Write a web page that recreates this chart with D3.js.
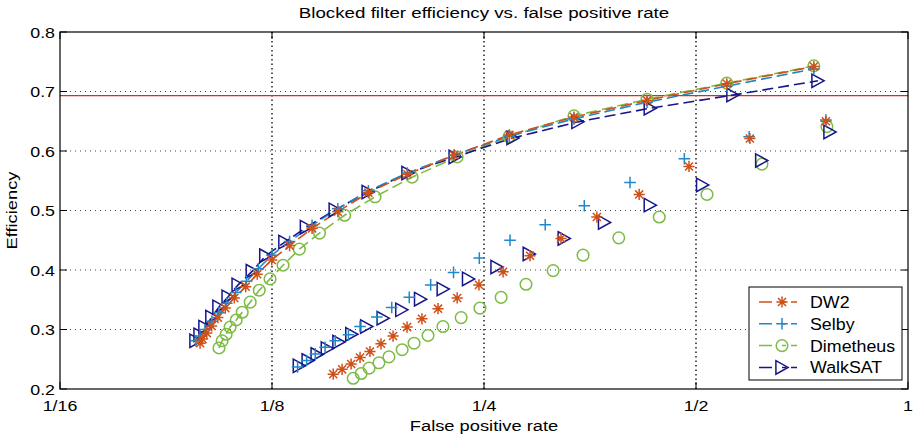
<!DOCTYPE html>
<html>
<head>
<meta charset="utf-8">
<script src="https://cdn.jsdelivr.net/npm/d3@7"></script>
<style>
  html, body { margin: 0; padding: 0; background: #fff; }
  svg { display: block; font-family: "Liberation Sans", Arial, Helvetica, sans-serif; }
</style>
</head>
<body>
<svg id="chart" width="914" height="438"></svg>
<script>
// Axis ticks
const xTickValues = [1/16, 1/8, 1/4, 1/2, 1];
const xTickLabels = ["1/16", "1/8", "1/4", "1/2", "1"];
const yTickValues = [0.2, 0.3, 0.4, 0.5, 0.6, 0.7, 0.8];

// Reference efficiency (ln 2)
const referenceEfficiency = Math.LN2;

// DW2
const dw2CurveFpr = [0.0988,0.0996,0.1010,0.1026,0.1047,0.1073,0.1105,0.1147,0.1191,0.1249,0.1324,0.1425,0.155,0.1713,0.1946,0.2268,0.2716,0.3355,0.426,0.553,0.735];
const dw2CurveEff = [0.277,0.284,0.294,0.306,0.320,0.336,0.353,0.372,0.393,0.417,0.441,0.470,0.498,0.530,0.561,0.593,0.627,0.657,0.685,0.713,0.742];
const dw2PointFpr = [0.1527,0.1572,0.1619,0.1667,0.1722,0.1785,0.1857,0.1944,0.2041,0.2151,0.2290,0.2459,0.2661,0.2906,0.3216,0.3616,0.4152,0.4887,0.5963,0.7646];
const dw2PointEff = [0.225,0.233,0.242,0.253,0.263,0.276,0.289,0.304,0.318,0.335,0.353,0.375,0.397,0.424,0.453,0.489,0.527,0.574,0.621,0.650];

// Selby
const selbyCurveFpr = [0.0975,0.0988,0.1004,0.1027,0.1051,0.1078,0.1110,0.1150,0.1195,0.1250,0.1324,0.1425,0.155,0.1713,0.1946,0.2268,0.2716,0.3355,0.426,0.553,0.735];
const selbyCurveEff = [0.281,0.289,0.300,0.314,0.328,0.344,0.362,0.381,0.402,0.425,0.448,0.475,0.503,0.533,0.563,0.593,0.625,0.654,0.682,0.709,0.738];
const selbyPointFpr = [0.1359,0.1400,0.1440,0.1487,0.1537,0.1605,0.1667,0.1761,0.1849,0.1958,0.2100,0.2263,0.2462,0.2722,0.3054,0.3470,0.4030,0.4813,0.5949,0.7646];
const selbyPointEff = [0.237,0.248,0.259,0.270,0.281,0.291,0.305,0.321,0.337,0.354,0.375,0.396,0.420,0.450,0.476,0.508,0.547,0.587,0.624,0.652];

// Dimetheus
const dimetheusCurveFpr = [0.1051,0.1062,0.1076,0.1090,0.1112,0.1134,0.1164,0.1199,0.1242,0.1296,0.1367,0.1460,0.1585,0.1751,0.1976,0.2290,0.2713,0.3355,0.426,0.553,0.735];
const dimetheusCurveEff = [0.269,0.281,0.292,0.304,0.316,0.329,0.346,0.366,0.385,0.408,0.435,0.462,0.492,0.523,0.556,0.590,0.624,0.659,0.687,0.714,0.743];
const dimetheusPointFpr = [0.1630,0.1673,0.1717,0.1773,0.1832,0.1913,0.1989,0.2082,0.2186,0.2320,0.2467,0.2644,0.2868,0.3134,0.3456,0.3884,0.4434,0.5183,0.6203,0.7671];
const dimetheusPointEff = [0.218,0.226,0.235,0.244,0.254,0.266,0.277,0.290,0.305,0.320,0.336,0.354,0.376,0.399,0.425,0.454,0.489,0.527,0.578,0.641];

// WalkSAT
const walksatCurveFpr = [0.0975,0.0988,0.1004,0.1027,0.1051,0.1083,0.1119,0.1172,0.1225,0.1304,0.1399,0.1537,0.1712,0.1950,0.2275,0.2749,0.3399,0.4306,0.5642,0.7451];
const walksatCurveEff = [0.281,0.291,0.304,0.321,0.338,0.355,0.375,0.398,0.424,0.447,0.472,0.501,0.531,0.563,0.590,0.622,0.649,0.672,0.694,0.718];
const walksatPointFpr = [0.1367,0.1407,0.1449,0.1498,0.1556,0.1623,0.1704,0.1798,0.1911,0.2032,0.2188,0.2377,0.2609,0.2899,0.3250,0.3708,0.4306,0.5110,0.6199,0.7749];
const walksatPointEff = [0.239,0.248,0.258,0.268,0.279,0.292,0.305,0.319,0.333,0.351,0.368,0.385,0.405,0.427,0.453,0.480,0.509,0.543,0.584,0.632];

const seriesNames = ["DW2", "Selby", "Dimetheus", "WalkSAT"];

const zip = (xs, ys) => xs.map((x, i) => ({ x, y: ys[i] }));

const series = [
  { name: "DW2",       color: "#cf5018", marker: "star",     curve: zip(dw2CurveFpr, dw2CurveEff),             points: zip(dw2PointFpr, dw2PointEff) },
  { name: "Selby",     color: "#2088c8", marker: "plus",     curve: zip(selbyCurveFpr, selbyCurveEff),         points: zip(selbyPointFpr, selbyPointEff) },
  { name: "Dimetheus", color: "#7dbb45", marker: "circle",   curve: zip(dimetheusCurveFpr, dimetheusCurveEff), points: zip(dimetheusPointFpr, dimetheusPointEff) },
  { name: "WalkSAT",   color: "#15158c", marker: "triangle", curve: zip(walksatCurveFpr, walksatCurveEff),     points: zip(walksatPointFpr, walksatPointEff) }
];
const byName = Object.fromEntries(series.map(s => [s.name, s]));
// Stacking order of the marks
const drawOrder = ["Dimetheus", "WalkSAT", "Selby", "DW2"];

const svg = d3.select("#chart");
const margin = { left: 60, right: 6, top: 32, bottom: 49 };
const W = 914, H = 438;

const x = d3.scaleLog().base(2).domain([1/16, 1]).range([margin.left, W - margin.right]);
const y = d3.scaleLinear().domain([0.2, 0.8]).range([H - margin.bottom, margin.top]);

const x0 = x.range()[0], x1 = x.range()[1];
const y0 = y.range()[0], y1 = y.range()[1];

// Wide-set label text: placed at (px, py), stretched along its baseline
function label(parent, px, py, str, size, stretch, anchor, angle = 0) {
  return parent.append("text")
    .attr("transform", `translate(${px},${py}) rotate(${angle}) scale(${stretch},1)`)
    .attr("text-anchor", anchor)
    .attr("font-size", size)
    .attr("fill", "#000")
    .text(str);
}

// Dotted grid
const grid = svg.append("g");
grid.selectAll("line.vg").data(xTickValues.slice(1, -1)).join("line")
  .attr("x1", d => x(d)).attr("x2", d => x(d)).attr("y1", y1).attr("y2", y0)
  .attr("stroke", "#000").attr("stroke-width", 1.3).attr("stroke-dasharray", "1.5,3");
grid.selectAll("line.hg").data(yTickValues.slice(1, -1)).join("line")
  .attr("x1", x0).attr("x2", x1).attr("y1", d => y(d)).attr("y2", d => y(d))
  .attr("stroke", "#444").attr("stroke-width", 1).attr("stroke-dasharray", "1,4");

// ln 2 reference line
svg.append("line")
  .attr("x1", x0).attr("x2", x1)
  .attr("y1", y(referenceEfficiency)).attr("y2", y(referenceEfficiency))
  .attr("stroke", "#e8241c").attr("stroke-width", 1.1);

// Marker shapes
function markerPath(type, r) {
  switch (type) {
    case "star": {
      const d = r * 0.72;
      return `M${-r},0H${r}M0,${-r}V${r}M${-d},${-d}L${d},${d}M${-d},${d}L${d},${-d}`;
    }
    case "plus":
      return `M${-r},0H${r}M0,${-r}V${r}`;
    case "circle":
      return `M${r},0A${r},${r} 0 1,1 ${-r},0A${r},${r} 0 1,1 ${r},0Z`;
    case "triangle":
      return `M${-r},${-r * 1.1}L${r},0L${-r},${r * 1.1}Z`;
  }
}
const markerSize = { star: 5.6, plus: 5.8, circle: 5.8, triangle: 6.1 };

const line = d3.line().x(d => x(d.x)).y(d => y(d.y));
const plot = svg.append("g");

drawOrder.forEach(name => {
  const s = byName[name];
  plot.append("path")
    .datum(s.curve)
    .attr("d", line)
    .attr("fill", "none")
    .attr("stroke", s.color)
    .attr("stroke-width", 1.6)
    .attr("stroke-dasharray", "11,5");
});

drawOrder.forEach(name => {
  const s = byName[name];
  plot.selectAll(null)
    .data(s.curve.concat(s.points))
    .join("path")
    .attr("transform", d => `translate(${x(d.x)},${y(d.y)})`)
    .attr("d", markerPath(s.marker, markerSize[s.marker]))
    .attr("fill", "none")
    .attr("stroke", s.color)
    .attr("stroke-width", 1.5);
});

// Axes box with inward ticks on all sides
const axes = svg.append("g");
axes.append("rect")
  .attr("x", x0).attr("y", y1).attr("width", x1 - x0).attr("height", y0 - y1)
  .attr("fill", "none").attr("stroke", "#000").attr("stroke-width", 1.2);

const tickLen = 7;
xTickValues.forEach(v => {
  axes.append("line").attr("x1", x(v)).attr("x2", x(v)).attr("y1", y0).attr("y2", y0 - tickLen).attr("stroke", "#000");
  axes.append("line").attr("x1", x(v)).attr("x2", x(v)).attr("y1", y1).attr("y2", y1 + tickLen).attr("stroke", "#000");
});
yTickValues.forEach(v => {
  axes.append("line").attr("x1", x0).attr("x2", x0 + tickLen).attr("y1", y(v)).attr("y2", y(v)).attr("stroke", "#000");
  axes.append("line").attr("x1", x1).attr("x2", x1 - tickLen).attr("y1", y(v)).attr("y2", y(v)).attr("stroke", "#000");
});

xTickValues.forEach((v, i) => label(axes, x(v), y0 + 22, xTickLabels[i], 15.5, 1.15, "middle"));
yTickValues.forEach(v => label(axes, x0 - 5, y(v) + 5.5, v.toFixed(1), 15.5, 1.15, "end"));

// Titles
label(svg, (x0 + x1) / 2, 18, "Blocked filter efficiency vs. false positive rate", 15, 1.25, "middle");
label(svg, (x0 + x1) / 2, 431, "False positive rate", 15, 1.22, "middle");
label(svg, 17, (y0 + y1) / 2, "Efficiency", 15, 1.22, "middle", -90);

// Legend
const legend = svg.append("g").attr("transform", "translate(749,287)");
legend.append("rect").attr("x", 0).attr("y", 0).attr("width", 153).attr("height", 93)
  .attr("fill", "#fff").attr("stroke", "#000").attr("stroke-width", 1);
seriesNames.forEach((name, i) => {
  const s = byName[name];
  const ly = 15 + i * 21.8;
  legend.append("line").attr("x1", 10).attr("x2", 56).attr("y1", ly).attr("y2", ly)
    .attr("stroke", s.color).attr("stroke-width", 1.5).attr("stroke-dasharray", "13,5,0,5,4,5,6");
  legend.append("path").attr("transform", `translate(33,${ly})`)
    .attr("d", markerPath(s.marker, markerSize[s.marker]))
    .attr("fill", "none").attr("stroke", s.color).attr("stroke-width", 1.5);
  label(legend, 61, ly + 6, name, 16.5, 1.08, "start");
});
</script>
</body>
</html>
